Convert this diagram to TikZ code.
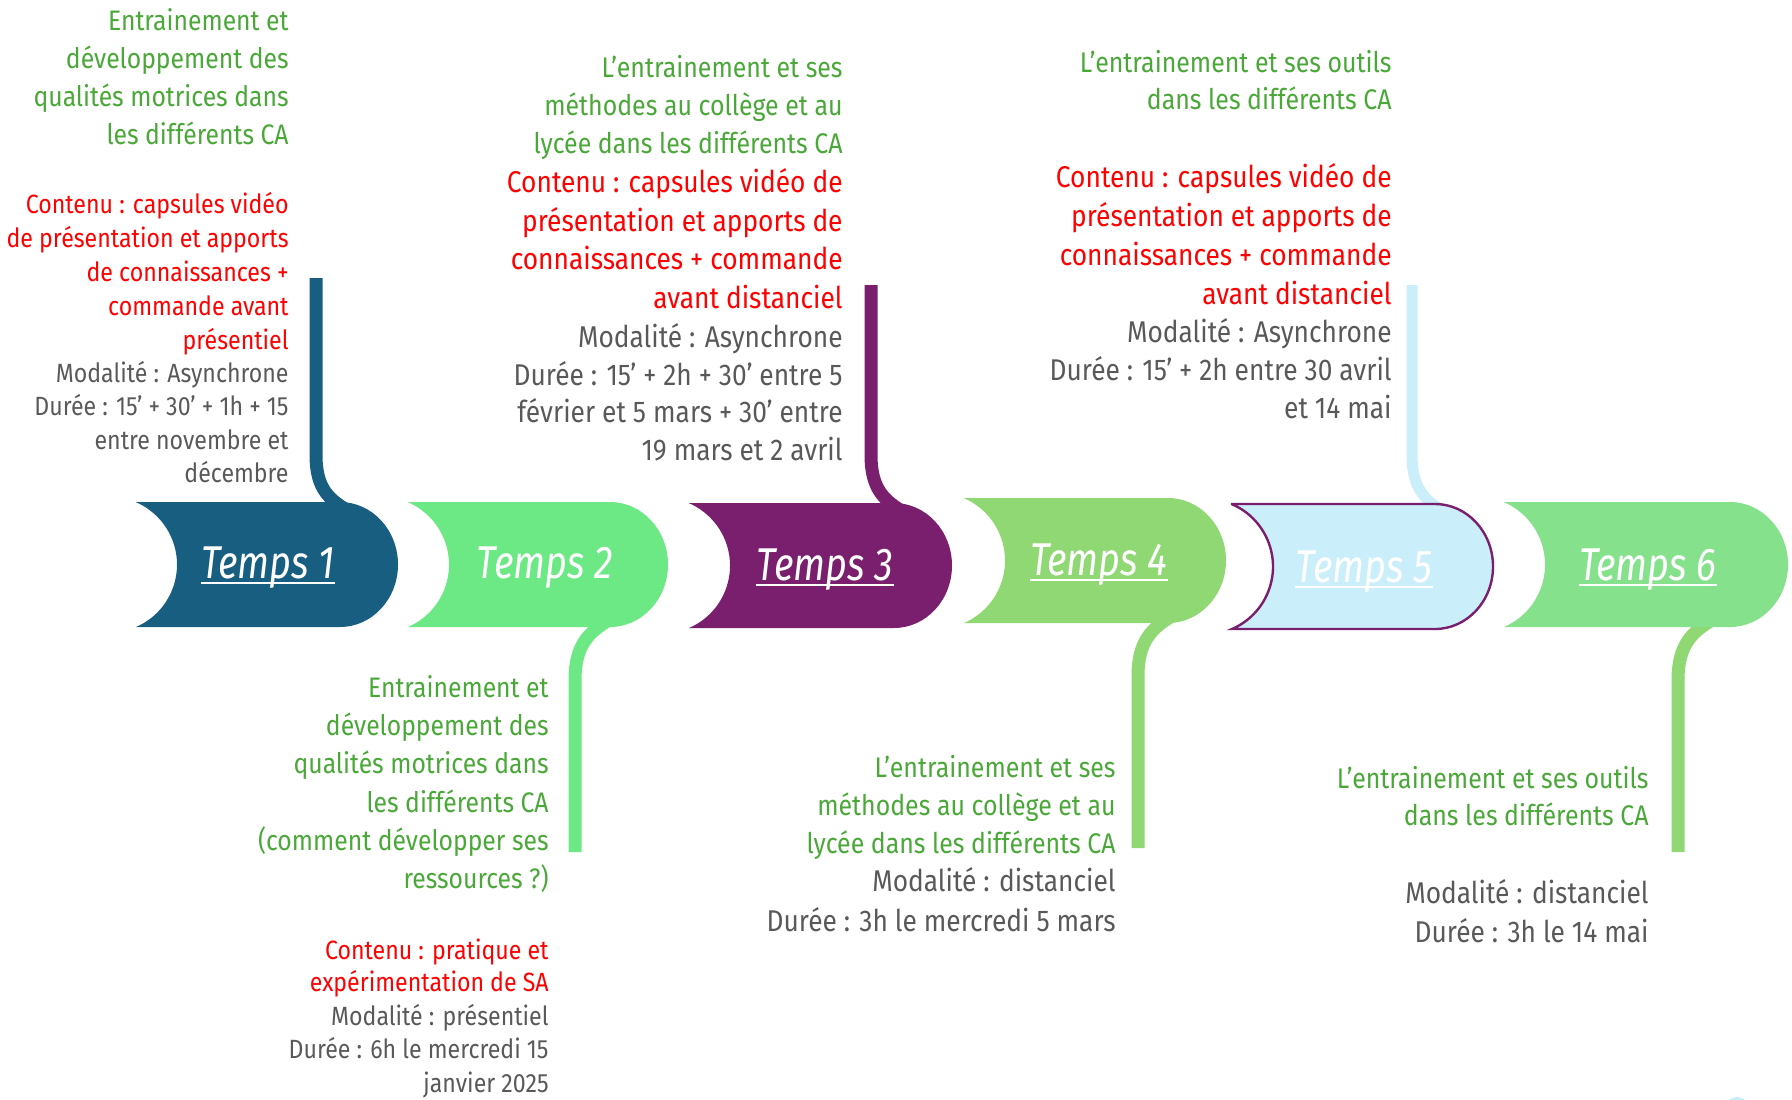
\documentclass[tikz,border=0pt]{standalone}
\usepackage{fontspec}
\setmainfont{Fira Sans}[FakeStretch=0.877]
\newfontfamily\tempsfont{Fira Sans}[FakeStretch=0.82]
\definecolor{tblue}{RGB}{24,94,129}
\definecolor{tgreena}{RGB}{108,232,132}
\definecolor{tpurple}{RGB}{122,31,110}
\definecolor{tgreenb}{RGB}{143,216,116}
\definecolor{tlight}{RGB}{203,238,251}
\definecolor{tgreenc}{RGB}{134,225,141}
\definecolor{txtgreen}{RGB}{74,168,56}
\definecolor{txtred}{RGB}{255,0,0}
\definecolor{txtgray}{RGB}{89,89,89}

\begin{document}
\begin{tikzpicture}[x=0.5pt, y=-0.5pt]
	\useasboundingbox (0,0) rectangle (1792,1099);
	\begin{scope}
		\tikzstyle{every node}=[inner sep=0pt]
		\tikzstyle{temps}=[text=white, anchor=base, font=\tempsfont\itshape\fontsize{23}{28}\selectfont]
		\tikzstyle{info}=[align=right, anchor=north east]
		\tikzstyle{stem}=[line width=6.5pt, line join=round]
		\tikzstyle{uline}=[white, line width=1pt]

		% stems
		\coordinate (s1a) at (316,278);  \coordinate (s1b) at (362,540);
		\coordinate (s2a) at (575,852);  \coordinate (s2b) at (621,592);
		\coordinate (s3a) at (871,285);  \coordinate (s3b) at (917,541);
		\coordinate (s4a) at (1138,848); \coordinate (s4b) at (1184,588);
		\coordinate (s5a) at (1412,285); \coordinate (s5b) at (1458,541);
		\coordinate (s6a) at (1678,852); \coordinate (s6b) at (1724,592);

		\draw [stem, tblue]   (s1a) -- (316,455) .. controls (316,490) and (330,500) .. (350,512) -- (s1b);
		\draw [stem, tgreena] (s2a) -- (575,680) .. controls (575,645) and (589,632) .. (609,620) -- (s2b);
		\draw [stem, tpurple] (s3a) -- (871,455) .. controls (871,490) and (885,501) .. (905,513) -- (s3b);
		\draw [stem, tgreenb] (s4a) -- (1138,676) .. controls (1138,641) and (1152,628) .. (1172,616) -- (s4b);
		\draw [stem, tlight, line width=5.5pt] (s5a) -- (1412,455) .. controls (1412,490) and (1426,501) .. (1446,513) -- (s5b);
		\draw [stem, tgreenb] (s6a) -- (1678,680) .. controls (1678,645) and (1692,632) .. (1712,620) -- (s6b);

		% temps shapes
		\fill [tblue] (136,502) -- (340,502) arc[start angle=-90, end angle=90, x radius=58, y radius=62.5]
			-- (136,627) arc[start angle=66.6, end angle=-66.6, radius=68] -- cycle;
		\fill [tgreena] (408,502) -- (610,502) arc[start angle=-90, end angle=90, x radius=58, y radius=62.5]
			-- (408,627) arc[start angle=66.6, end angle=-66.6, radius=68] -- cycle;
		\fill [tpurple] (689,503) -- (894,503) arc[start angle=-90, end angle=90, x radius=58, y radius=62.5]
			-- (689,628) arc[start angle=66.6, end angle=-66.6, radius=68] -- cycle;
		\fill [tgreenb] (964,498) -- (1168,498) arc[start angle=-90, end angle=90, x radius=58, y radius=62.5]
			-- (964,623) arc[start angle=66.6, end angle=-66.6, radius=68] -- cycle;
		\filldraw [fill=tlight, draw=tpurple, line width=1.2pt] (1232,504) -- (1435,504) arc[start angle=-90, end angle=90, x radius=58, y radius=62.5]
			-- (1232,629) arc[start angle=66.6, end angle=-66.6, radius=68] -- cycle;
		\fill [tgreenc] (1504,502) -- (1730,502) arc[start angle=-90, end angle=90, x radius=58, y radius=62.5]
			-- (1504,627) arc[start angle=66.6, end angle=-66.6, radius=68] -- cycle;

		\node [temps] (t1) at (268,578) {Temps 1};
		\node [temps] (t2) at (545,578) {Temps 2};
		\node [temps] (t3) at (825,580) {Temps 3};
		\node [temps] (t4) at (1099,575) {Temps 4};
		\node [temps] (t5) at (1364,582) {Temps 5};
		\node [temps] (t6) at (1648,580) {Temps 6};

		\draw [uline] ([yshift=-2.6pt]t1.base west) -- ([yshift=-2.6pt]t1.base east);
		\draw [uline] ([yshift=-2.6pt]t3.base west) -- ([yshift=-2.6pt]t3.base east);
		\draw [uline] ([yshift=-2.6pt]t4.base west) -- ([yshift=-2.6pt]t4.base east);
		\draw [uline] ([yshift=-2.6pt]t5.base west) -- ([yshift=-2.6pt]t5.base east);
		\draw [uline] ([yshift=-2.6pt]t6.base west) -- ([yshift=-2.6pt]t6.base east);

		% temps 1
		\node [info, text=txtgreen, font=\fontsize{14.1}{19}\selectfont] (g1) at (289,3.4)
			{\strut Entrainement et\\développement des\\qualités motrices dans\\les différents CA};
		\node [info, text=txtred, font=\fontsize{13.2}{17}\selectfont] (r1) at (289,189.2)
			{\strut Contenu : capsules vidéo\\de présentation et apports\\de connaissances +\\commande avant\\présentiel};
		\node [info, text=txtgray, font=\fontsize{13.2}{16.75}\selectfont] (m1) at (289,358.5)
			{\strut Modalité : Asynchrone\\Durée : 15’ + 30’ + 1h + 15\\entre novembre et\\décembre};

		% temps 2
		\node [info, text=txtgreen, font=\fontsize{14.1}{19.1}\selectfont] (g2) at (549,670.3)
			{\strut Entrainement et\\développement des\\qualités motrices dans\\les différents CA\\(comment développer ses\\ressources ?)};
		\node [info, text=txtred, font=\fontsize{13.2}{16}\selectfont] (r2) at (549,936.6)
			{\strut Contenu : pratique et\\expérimentation de SA};
		\node [info, text=txtgray, font=\fontsize{13.2}{16.75}\selectfont] (m2) at (549,1001.5)
			{\strut Modalité : présentiel\\Durée : 6h le mercredi 15\\janvier 2025};

		% temps 3
		\node [info, text=txtgreen, font=\fontsize{14.2}{19}\selectfont] (g3) at (843,50.4)
			{\strut L’entrainement et ses\\méthodes au collège et au\\lycée dans les différents CA};
		\node [info, text=txtred, font=\fontsize{15}{19.35}\selectfont] (r3) at (843,164.9)
			{\strut Contenu : capsules vidéo de\\présentation et apports de\\connaissances + commande\\avant distanciel};
		\node [info, text=txtgray, font=\fontsize{15}{18.85}\selectfont] (m3) at (843,320.6)
			{\strut Modalité : Asynchrone\\Durée : 15’ + 2h + 30’ entre 5\\février et 5 mars + 30’ entre\\19 mars et 2 avril};

		% temps 4
		\node [info, text=txtgreen, font=\fontsize{14.2}{19}\selectfont] (g4) at (1116,750.4)
			{\strut L’entrainement et ses\\méthodes au collège et au\\lycée dans les différents CA};
		\node [info, text=txtgray, font=\fontsize{15}{20}\selectfont] (m4) at (1116,863)
			{\strut Modalité : distanciel\\Durée : 3h le mercredi 5 mars};

		% temps 5
		\node [info, text=txtgreen, font=\fontsize{14.2}{18.5}\selectfont] (g5) at (1392,46.1)
			{\strut L’entrainement et ses outils\\dans les différents CA};
		\node [info, text=txtred, font=\fontsize{15}{19.5}\selectfont] (r5) at (1392,159.7)
			{\strut Contenu : capsules vidéo de\\présentation et apports de\\connaissances + commande\\avant distanciel};
		\node [info, text=txtgray, font=\fontsize{15}{19}\selectfont] (m5) at (1392,315.4)
			{\strut Modalité : Asynchrone\\Durée : 15’ + 2h entre 30 avril\\et 14 mai};

		% temps 6
		\node [info, text=txtgreen, font=\fontsize{14.2}{18.5}\selectfont] (g6) at (1649,762.1)
			{\strut L’entrainement et ses outils\\dans les différents CA};
		\node [info, text=txtgray, font=\fontsize{15}{19.5}\selectfont] (m6) at (1649,875.7)
			{\strut Modalité : distanciel\\Durée : 3h le 14 mai};

		\fill [tlight] (1737,1110) circle (13);
	\end{scope}
\end{tikzpicture}
\end{document}
